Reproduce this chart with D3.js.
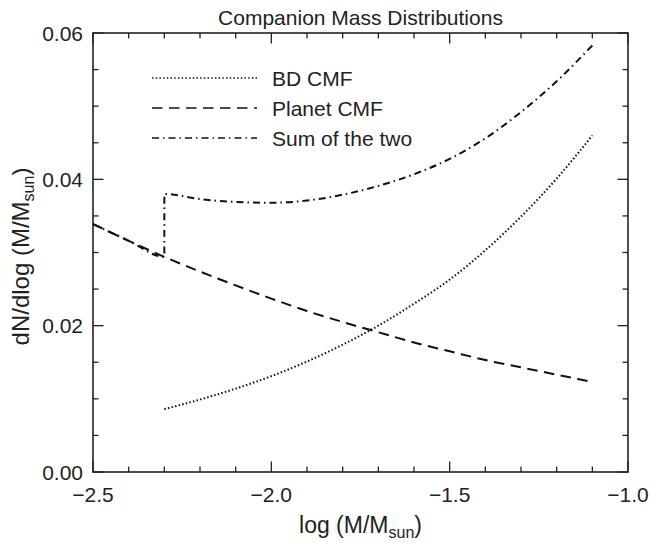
<!DOCTYPE html>
<html>
<head>
<meta charset="utf-8">
<script src="https://cdn.jsdelivr.net/npm/d3@7"></script>
<style>
  body { margin: 0; background: #fff; }
  svg text { font-family: "Liberation Sans", Arial, sans-serif; fill: #222; }
</style>
</head>
<body>
<svg id="chart" width="650" height="543"></svg>
<script>
// values
const planetX = [-2.5, -2.4, -2.3, -2.2, -2.1, -2.0, -1.9, -1.8, -1.7, -1.6, -1.5, -1.4, -1.3, -1.2, -1.1];
const planetY = [0.0339, 0.0316, 0.0294, 0.0274, 0.0255, 0.0237, 0.0220, 0.0205, 0.0191, 0.0177, 0.0165, 0.0153, 0.0143, 0.0133, 0.0123];
const bdX = [-2.3, -2.2, -2.1, -2.0, -1.9, -1.8, -1.7, -1.6, -1.5, -1.4, -1.3, -1.2, -1.1];
const bdY = [0.0086, 0.0099, 0.0114, 0.0131, 0.0151, 0.0174, 0.0200, 0.0230, 0.0263, 0.0303, 0.0349, 0.0401, 0.0460];
const xTicks = [-2.5, -2.0, -1.5, -1.0];
const yTicks = [0.00, 0.02, 0.04, 0.06];
const legendLabels = ['BD CMF', 'Planet CMF', 'Sum of the two'];

const M = { left: 93, right: 628, top: 33, bottom: 472 };
const INK = '#222';

const svg = d3.select('#chart');
const x = d3.scaleLinear().domain([-2.5, -1.0]).range([M.left, M.right]);
const y = d3.scaleLinear().domain([0, 0.06]).range([M.bottom, M.top]);

const planet = planetX.map((v, i) => [v, planetY[i]]);
const bd = bdX.map((v, i) => [v, bdY[i]]);
// sum: planet alone below the BD cutoff, then jump up and add the two
const sum = planet.filter(d => d[0] <= bdX[0]);
sum.push(...bd.map(d => [d[0], d[1] + planetY[planetX.indexOf(d[0])]]));

const line = d3.line().x(d => x(d[0])).y(d => y(d[1])).curve(d3.curveMonotoneX);

// frame
svg.append('rect').attr('x', M.left).attr('y', M.top)
  .attr('width', M.right - M.left).attr('height', M.bottom - M.top)
  .attr('fill', 'none').attr('stroke', INK).attr('stroke-width', 1.6);

// ticks, inward, on all four sides
const xMinor = d3.range(-2.5, -0.99, 0.1);
const yMinor = d3.range(0, 0.0601, 0.005);
const tickG = svg.append('g').attr('stroke', INK).attr('stroke-width', 1.3);
xMinor.forEach(v => {
  const major = xTicks.some(t => Math.abs(t - v) < 1e-6);
  const len = major ? 10.5 : 5.5;
  tickG.append('line').attr('x1', x(v)).attr('x2', x(v)).attr('y1', M.bottom).attr('y2', M.bottom - len);
  tickG.append('line').attr('x1', x(v)).attr('x2', x(v)).attr('y1', M.top).attr('y2', M.top + len);
});
yMinor.forEach(v => {
  const major = yTicks.some(t => Math.abs(t - v) < 1e-6);
  const len = major ? 10.5 : 5.5;
  tickG.append('line').attr('y1', y(v)).attr('y2', y(v)).attr('x1', M.left).attr('x2', M.left + len);
  tickG.append('line').attr('y1', y(v)).attr('y2', y(v)).attr('x1', M.right).attr('x2', M.right - len);
});

// tick labels
svg.append('g').selectAll('text').data(xTicks).enter().append('text')
  .attr('x', d => x(d)).attr('y', M.bottom + 30).attr('text-anchor', 'middle')
  .attr('font-size', 21).text(d => d3.format('.1f')(d).replace('-', '\u2013'));
svg.append('g').selectAll('text').data(yTicks).enter().append('text')
  .attr('x', M.left - 10).attr('y', d => y(d) + 7.5).attr('text-anchor', 'end')
  .attr('font-size', 21).text(d => d3.format('.2f')(d));

// title and axis titles
svg.append('text').attr('x', (M.left + M.right) / 2).attr('y', 25)
  .attr('text-anchor', 'middle').attr('font-size', 21).text('Companion Mass Distributions');
const xl = svg.append('text').attr('x', (M.left + M.right) / 2).attr('y', 533)
  .attr('text-anchor', 'middle').attr('font-size', 23);
xl.append('tspan').text('log (M/M');
xl.append('tspan').attr('font-size', 16).attr('dy', 5).text('sun');
xl.append('tspan').attr('dy', -5).text(')');
const yl = svg.append('text').attr('transform', `translate(29,${(M.top + M.bottom) / 2 + 4}) rotate(-90)`)
  .attr('text-anchor', 'middle').attr('font-size', 24);
yl.append('tspan').text('dN/dlog (M/M');
yl.append('tspan').attr('font-size', 16).attr('dy', 5).text('sun');
yl.append('tspan').attr('dy', -5).text(')');

// curves
const styles = [
  { data: bd, dash: '1.5,2.2' },
  { data: planet, dash: '10.5,6.5' },
  { data: sum, dash: '7,4,1.5,4' }
];
styles.forEach(s => {
  svg.append('path').attr('d', line(s.data)).attr('fill', 'none')
    .attr('stroke', '#111').attr('stroke-width', 2).attr('stroke-dasharray', s.dash);
});

// legend
const lg = svg.append('g');
legendLabels.forEach((lab, i) => {
  const ly = 78 + i * 30;
  lg.append('line').attr('x1', 152).attr('x2', 257).attr('y1', ly).attr('y2', ly)
    .attr('stroke', '#111').attr('stroke-width', 1.6).attr('stroke-dasharray', styles[i].dash);
  lg.append('text').attr('x', 272).attr('y', ly + 7.5).attr('font-size', 21).text(lab);
});
</script>
</body>
</html>
